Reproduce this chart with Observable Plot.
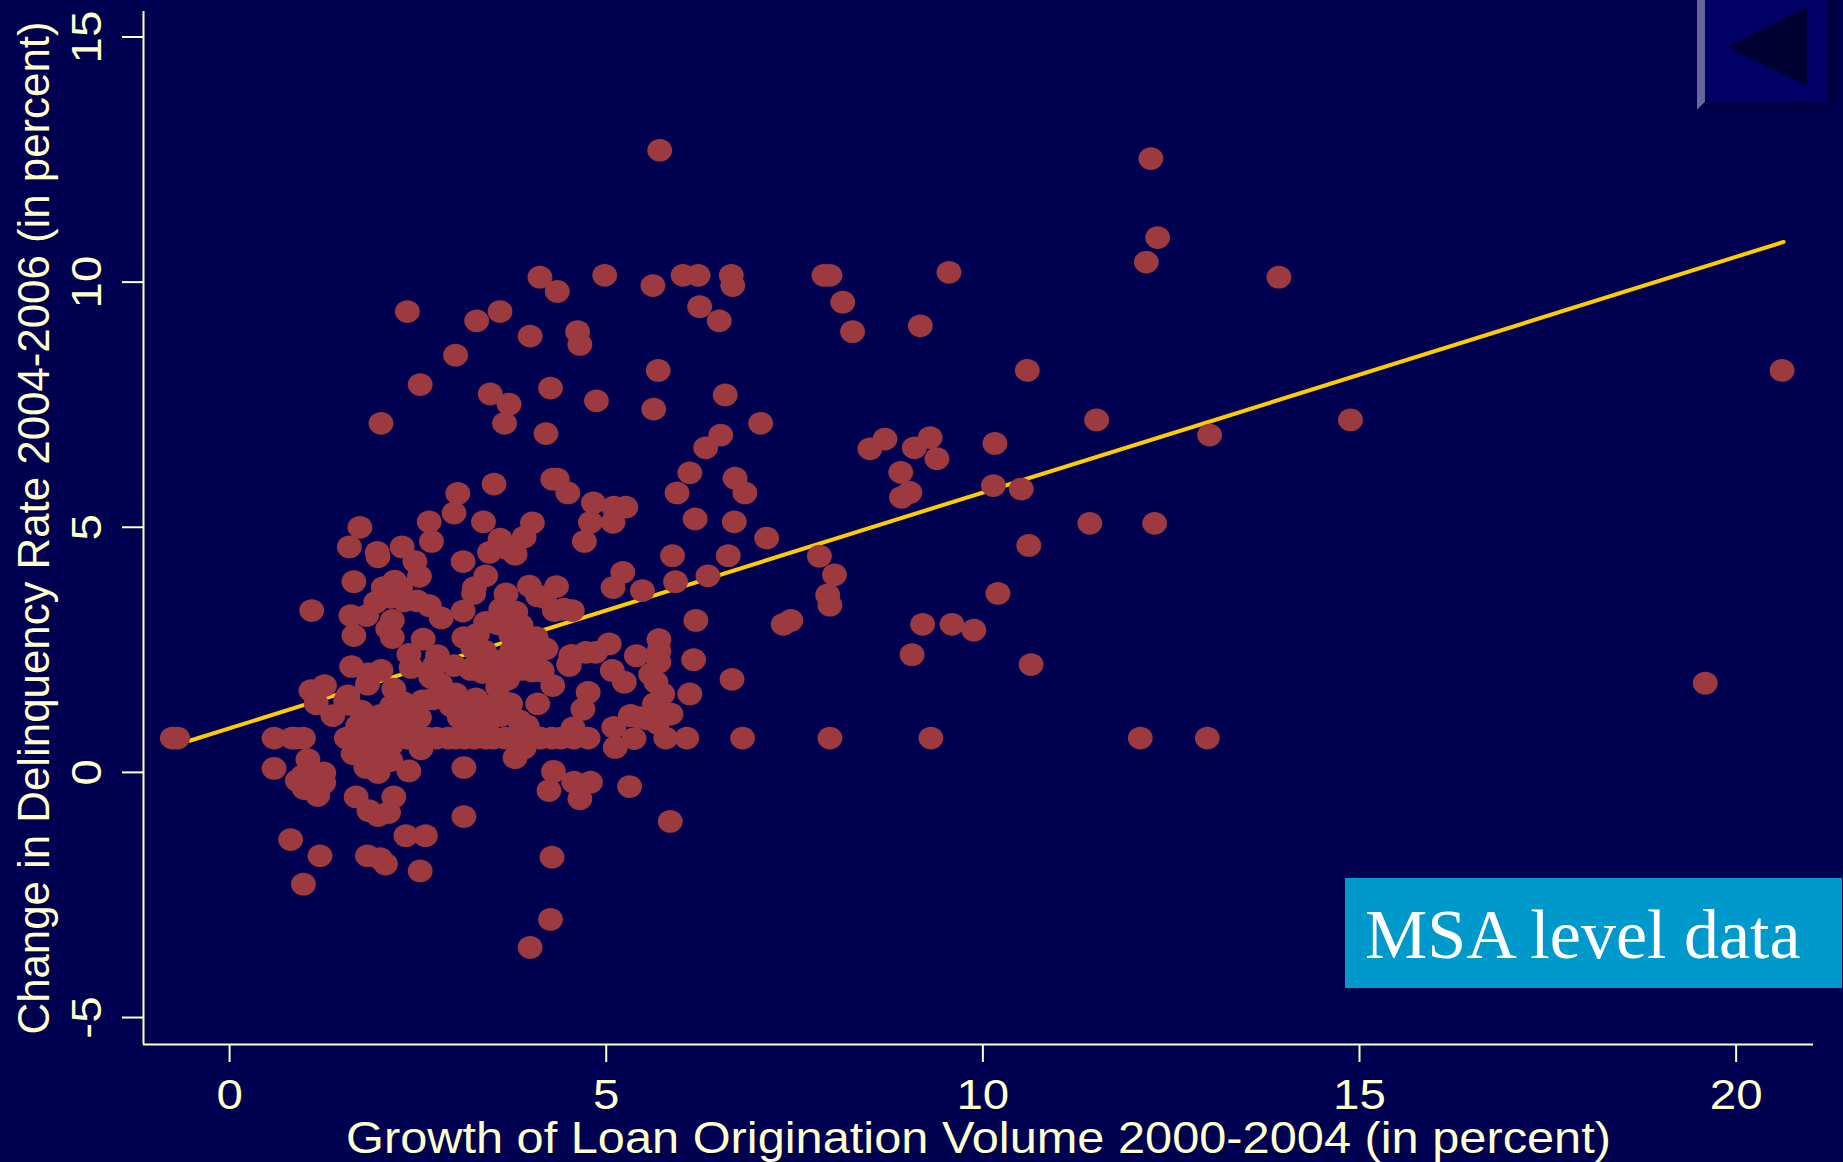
<!DOCTYPE html>
<html>
<head>
<meta charset="utf-8">
<script src="https://cdn.jsdelivr.net/npm/d3@7"></script>
<script src="https://cdn.jsdelivr.net/npm/@observablehq/plot@0.6"></script>
<style>
html,body{margin:0;padding:0;background:#000050;overflow:hidden;width:1843px;height:1162px}
#chart{position:absolute;left:0;top:0}
#tag{position:absolute;left:1345px;top:878px;width:497px;height:110px;background:#0099cc;color:#fff;font-family:"Liberation Serif",serif;font-size:70px;line-height:113px;padding-left:20px;box-sizing:border-box;white-space:nowrap}
#back{position:absolute;left:1697px;top:0}
</style>
</head>
<body>
<div id="chart"></div>
<svg id="back" width="146" height="112">
<polygon points="8,0 131,0 131,102 8,102" fill="#000066"/>
<polygon points="0,0 8,0 8,102 0,110" fill="#666699"/>
<polygon points="131,0 139,0 139,109 131,102" fill="#00003f"/>
<polygon points="8,102 131,102 139,110 0,110" fill="#000048"/>
<polygon points="30,47 110,7 110,86" fill="#000033"/>
</svg>
<div id="tag">MSA level data</div>
<script>
const xTicks = [0, 5, 10, 15, 20];
const yTicks = [-5, 0, 5, 10, 15];
const xTitle = "Growth of Loan Origination Volume 2000-2004 (in percent)";
const yTitle = "Change in Delinquency Rate 2004-2006 (in percent)";
const xDomain = [-1.143, 21.027];
const yDomain = [-5.55, 15.52];
const fitX = [-0.53, 20.63];
const fitY = [0.645, 10.82];

const farRight = [[12.23,12.52],[12.32,10.91],[12.17,10.41],[13.93,10.1],[9.55,10.2],[9.17,9.11],[20.61,8.2],[10.59,8.2],[11.51,7.19],[14.88,7.19],[13.01,6.88],[10.16,6.71],[10.14,5.85],[10.51,5.78],[11.42,5.08],[12.28,5.08],[10.61,4.63],[10.2,3.65],[10.64,2.2],[19.59,1.82],[12.09,0.7],[12.98,0.7],[9.31,0.7],[7.97,0.7],[6.81,0.7],[9.88,2.9],[9.59,3.02],[9.2,3.02],[9.06,2.4],[8.5,6.6],[8.7,6.8],[9.09,6.62],[9.3,6.83],[9.39,6.4],[8.91,6.12],[8.92,5.61],[9.03,5.71],[7.83,4.41],[8.03,4.03],[7.94,3.62],[7.97,3.41],[7.35,3.02],[7.45,3.1]];
const topBand = [[5.71,12.69],[7.89,10.14],[7.97,10.14],[8.14,9.59],[8.27,8.99],[4.98,10.14],[6.02,10.14],[6.22,10.14],[6.66,10.14],[6.68,9.93],[5.62,9.93],[6.24,9.5],[6.5,9.21],[4.12,10.1],[4.35,9.81],[2.36,9.4],[3.28,9.21],[3.59,9.4],[4.62,8.99],[4.65,8.73],[3.99,8.9],[3.0,8.51],[5.69,8.2],[2.53,7.91],[4.26,7.84],[3.46,7.72],[3.71,7.51],[4.87,7.58],[6.58,7.7],[5.63,7.41],[7.05,7.12],[2.01,7.12],[3.65,7.12],[4.2,6.91],[6.52,6.88],[6.32,6.62]];
const midBand = [[3.51,5.88],[4.29,5.98],[4.35,5.98],[4.49,5.7],[4.83,5.5],[5.1,5.41],[5.26,5.41],[5.09,5.1],[4.79,5.1],[4.71,4.71],[6.11,6.11],[5.94,5.7],[6.71,6.0],[6.84,5.7],[6.18,5.17],[6.7,5.11],[7.13,4.78],[6.62,4.42],[5.88,4.42],[5.22,4.08],[5.09,3.77],[5.48,3.71],[5.92,3.89],[6.35,4.01],[6.19,3.1],[5.7,2.71],[6.16,2.3],[6.67,1.9],[6.11,1.6],[4.18,3.57],[4.55,3.3],[3.78,2.96],[4.17,2.52],[4.13,2.08]];
const denseUpper = [[1.73,5.0],[1.59,4.6],[1.96,4.49],[1.97,4.4],[2.29,4.6],[2.46,4.3],[2.65,5.11],[2.68,4.71],[2.98,5.29],[3.03,5.69],[3.37,5.11],[3.59,4.76],[3.45,4.49],[3.69,4.56],[3.79,4.45],[3.91,4.8],[4.02,5.09],[3.1,4.3],[1.65,3.89],[2.52,4.0],[3.4,4.01],[3.25,3.77],[3.24,3.65],[2.04,3.77],[2.19,3.9],[2.27,3.77],[1.94,3.47],[2.14,3.57],[2.32,3.5],[2.49,3.5],[2.65,3.4],[2.81,3.15],[1.61,3.2],[1.82,3.2],[1.09,3.3],[1.65,2.79],[2.16,3.1],[2.1,2.93],[2.16,2.75],[2.57,2.72],[3.67,3.64],[3.6,3.33],[3.1,3.29],[3.8,3.27],[3.98,3.8],[4.34,3.79],[4.09,3.6],[4.31,3.3],[4.44,3.33],[3.4,3.06],[3.87,3.0],[3.11,2.75],[3.29,2.82],[3.56,3.03],[4.07,2.75],[4.2,2.52],[3.73,2.82],[3.23,2.55],[3.38,2.48],[2.38,2.41],[2.76,2.38],[2.72,2.18],[2.98,2.18],[2.41,2.14],[3.62,2.28],[3.36,2.04],[4.53,2.38],[4.51,2.18],[1.62,2.16],[1.84,2.01],[2.01,2.08],[2.18,1.7],[1.83,1.8],[2.67,1.94],[2.8,1.8],[3.69,1.9],[3.87,2.1],[4.02,2.07],[4.15,2.07],[4.29,1.77],[3.56,1.73],[1.08,1.67],[1.26,1.77],[1.57,1.56],[3.75,2.5],[3.9,2.6],[3.5,2.28],[3.75,2.2],[3.95,2.3],[3.3,2.3],[3.45,2.1],[3.2,2.1]];
const denseMiddle = [[1.15,1.4],[1.37,1.16],[1.54,1.46],[1.59,1.39],[1.83,1.02],[1.99,1.16],[2.23,1.16],[2.3,1.43],[2.56,1.46],[2.52,1.12],[2.94,1.36],[3.27,1.5],[3.73,1.4],[3.29,1.16],[3.05,1.12],[3.6,1.16],[4.09,1.4],[5.04,2.62],[4.73,2.45],[4.86,2.45],[4.55,2.38],[4.5,2.2],[5.4,2.38],[5.7,2.48],[5.7,2.25],[5.08,2.08],[5.24,1.84],[5.59,2.0],[5.66,1.84],[5.75,1.6],[5.64,1.4],[5.86,1.19],[5.33,1.16],[5.1,0.92],[5.55,1.09],[5.68,1.0],[4.76,1.63],[4.69,1.29],[4.0,0.78],[5.32,1.16],[5.45,1.12],[2.1,0.95],[2.3,0.9],[3.25,0.95],[3.42,1.0],[3.55,1.3],[3.85,1.05],[3.95,0.95],[2.7,1.5],[3.0,1.6],[3.15,1.35],[3.4,1.35],[2.4,1.35],[2.15,1.35],[1.75,1.25],[1.7,0.95]];
const rowAtZero7 = [[-0.76,0.7],[-0.69,0.7],[0.59,0.7],[0.83,0.7],[0.87,0.7],[0.98,0.7],[1.55,0.7],[1.66,0.7],[1.82,0.7],[1.95,0.7],[2.05,0.7],[2.2,0.7],[2.36,0.7],[2.5,0.7],[2.62,0.7],[2.75,0.7],[2.9,0.7],[3.0,0.7],[3.12,0.7],[3.25,0.7],[3.4,0.7],[3.5,0.7],[3.66,0.7],[3.82,0.7],[3.93,0.7],[4.13,0.7],[4.28,0.7],[4.4,0.7],[4.57,0.7],[4.76,0.7],[5.37,0.69],[5.79,0.7],[6.07,0.7],[4.56,0.91]];
const belowRow = [[1.04,0.26],[0.97,-0.07],[1.25,-0.01],[1.17,-0.47],[1.25,-0.21],[0.99,-0.33],[0.9,-0.17],[1.08,-0.23],[0.59,0.08],[1.68,-0.5],[2.18,-0.5],[1.85,-0.78],[2.11,-0.82],[1.97,-0.88],[2.34,-1.29],[2.6,-1.29],[1.2,-1.7],[0.81,-1.37],[1.83,-1.7],[2.0,-1.76],[2.07,-1.87],[2.53,-2.01],[0.98,-2.28],[3.11,0.1],[3.11,-0.9],[2.38,0.03],[1.97,0.0],[1.81,0.1],[1.64,0.38],[2.14,0.24],[3.79,0.3],[3.91,0.5],[2.54,0.48],[2.14,0.55],[1.91,0.44],[4.3,0.02],[4.57,-0.2],[4.79,-0.2],[4.24,-0.37],[4.65,-0.54],[5.31,-0.29],[5.12,0.51],[5.85,-1.0],[4.28,-1.73],[4.26,-3.0],[3.99,-3.57]];

const points = [...farRight, ...topBand, ...midBand, ...denseUpper, ...denseMiddle, ...rowAtZero7, ...belowRow]
  .map(([x, y]) => ({x, y}));
const fit = fitX.map((x, i) => ({x, y: fitY[i]}));

const cream = "#ffffcc";
const ellipse = {
  draw(ctx, size) {
    const r = Math.sqrt(size / Math.PI), a = r * 1.045, b = r * 0.955, k = 0.5523;
    ctx.moveTo(a, 0);
    ctx.bezierCurveTo(a, k * b, k * a, b, 0, b);
    ctx.bezierCurveTo(-k * a, b, -a, k * b, -a, 0);
    ctx.bezierCurveTo(-a, -k * b, -k * a, -b, 0, -b);
    ctx.bezierCurveTo(k * a, -b, a, -k * b, a, 0);
    ctx.closePath();
  }
};

const chart = Plot.plot({
  width: 1843, height: 1162,
  marginLeft: 143, marginRight: 30, marginTop: 11, marginBottom: 118,
  style: {background: "#000050", fontFamily: "'Liberation Sans',Arial,sans-serif"},
  x: {domain: xDomain, label: null},
  y: {domain: yDomain, label: null},
  marks: [
    Plot.ruleY([yDomain[0]], {stroke: cream, strokeWidth: 2}),
    Plot.ruleX([xDomain[0]], {stroke: cream, strokeWidth: 2}),
    Plot.axisX({ticks: xTicks, tickSize: 18, tickPadding: 17, fontSize: 42, color: cream, strokeWidth: 2, label: null, tickFormat: d => String(d)}),
    Plot.axisY({ticks: yTicks, tickSize: 21, tickPadding: 22, fontSize: 42, color: cream, strokeWidth: 2, label: null, tickRotate: -90, textAnchor: "middle", tickFormat: d => String(d)}),
    Plot.text([xTitle], {frameAnchor: "bottom", dy: 108, fill: cream, fontSize: 44, lineWidth: 100, textAnchor: "middle"}),
    Plot.text([yTitle], {frameAnchor: "left", dx: -109, rotate: -90, fill: cream, fontSize: 44, lineWidth: 100, textAnchor: "middle"}),
    Plot.line(fit, {x: "x", y: "y", stroke: "#ffcc00", strokeWidth: 4}),
    Plot.dot(points, {x: "x", y: "y", r: 11.9, fill: "#9c3a40", symbol: ellipse})
  ]
});
document.getElementById("chart").appendChild(chart);
// The reference's lettering is wider than the installed Arial metric: stretch along the baseline.
chart.querySelectorAll("text").forEach(t => {
  const s = t.textContent;
  const len = s === xTitle ? 1265 : s === yTitle ? 1013 : t.getComputedTextLength() * 1.13;
  t.setAttribute("textLength", len);
  t.setAttribute("lengthAdjust", "spacingAndGlyphs");
});
</script>
</body>
</html>
